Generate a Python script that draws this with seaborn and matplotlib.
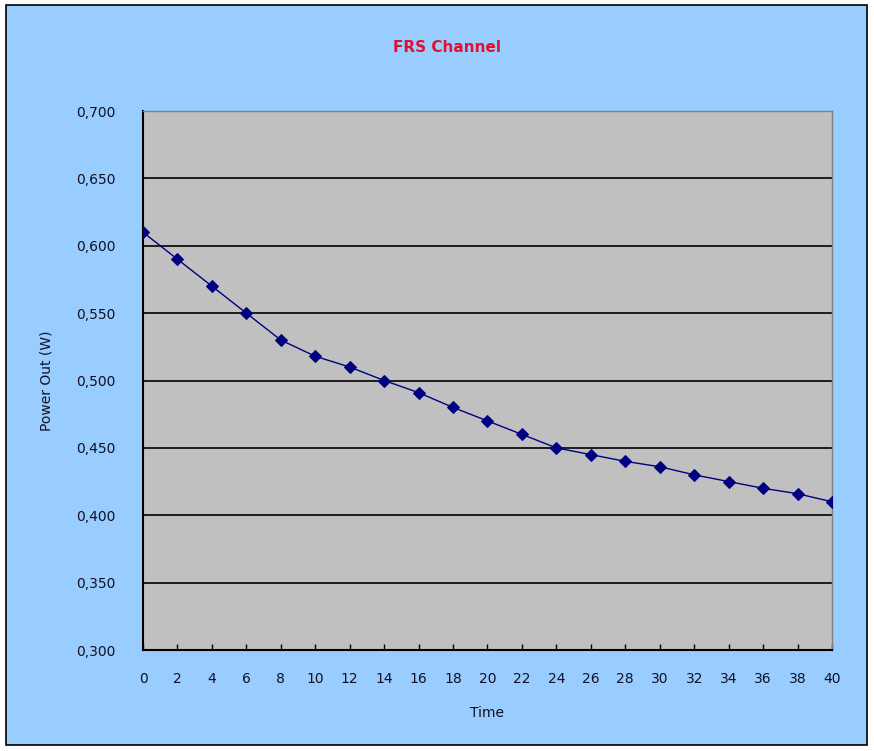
import matplotlib
matplotlib.use("Agg")
import matplotlib.pyplot as plt
import matplotlib.patches as mpatches
import seaborn as sns
import pandas as pd

# values
time = [0, 2, 4, 6, 8, 10, 12, 14, 16, 18, 20, 22, 24, 26, 28, 30, 32, 34, 36, 38, 40]
power = [0.610, 0.590, 0.570, 0.550, 0.530, 0.518, 0.510, 0.500, 0.491, 0.480, 0.470,
         0.460, 0.450, 0.445, 0.440, 0.436, 0.430, 0.425, 0.420, 0.416, 0.410]
y_ticks = [0.300, 0.350, 0.400, 0.450, 0.500, 0.550, 0.600, 0.650, 0.700]

df = pd.DataFrame({"Time": time, "Power": power})

sns.set_style("white")
plt.rcParams["font.family"] = ["DejaVu Sans"]

fig = plt.figure(figsize=(8.74, 7.51), dpi=100)
fig.patch.set_facecolor("white")
# chart area with black frame
fig.patches.append(mpatches.Rectangle((6 / 874, 6 / 751), 861 / 874, 740 / 751,
                                      transform=fig.transFigure, facecolor="#99CCFF",
                                      edgecolor="black", linewidth=1.2, zorder=-5))

ax = fig.add_axes([143 / 874, 1 - 650 / 751, 689 / 874, 539 / 751])
ax.set_zorder(2)
ax.set_facecolor("#C0C0C0")

sns.lineplot(data=df, x="Time", y="Power", ax=ax, color="#000080", linewidth=1,
             marker="D", markersize=6, markeredgecolor="#000080", zorder=3)

ax.set_xlim(0, 40)
ax.set_ylim(0.3, 0.7)
ax.set_xticks(time)
ax.set_xticklabels([str(t) for t in time])
ax.set_yticks(y_ticks)
ax.set_yticklabels([f"{v:.3f}".replace(".", ",") for v in y_ticks])

ax.grid(axis="y", color="black", linewidth=1.2)
ax.grid(axis="x", visible=False)
ax.set_axisbelow(True)

ax.tick_params(axis="x", direction="in", length=4, width=1, color="black",
               labelsize=10, pad=16, labelcolor="#111122", bottom=True)
ax.tick_params(axis="y", length=0, labelsize=10, pad=20, labelcolor="#111122")

for side in ["left", "bottom"]:
    ax.spines[side].set_color("black")
    ax.spines[side].set_linewidth(1.5)
for side in ["top", "right"]:
    ax.spines[side].set_color("#808080")
    ax.spines[side].set_linewidth(1)

ax.set_xlabel("Time", fontsize=10, labelpad=14, color="#111122")
ax.set_ylabel("Power Out (W)", fontsize=10, labelpad=16, color="#111122")

fig.text(447 / 874, 1 - 47 / 751, "FRS Channel", color="#E0102E",
         fontsize=11, fontweight="bold", ha="center", va="center")

fig.savefig("out.png", dpi=100, facecolor=fig.get_facecolor())
